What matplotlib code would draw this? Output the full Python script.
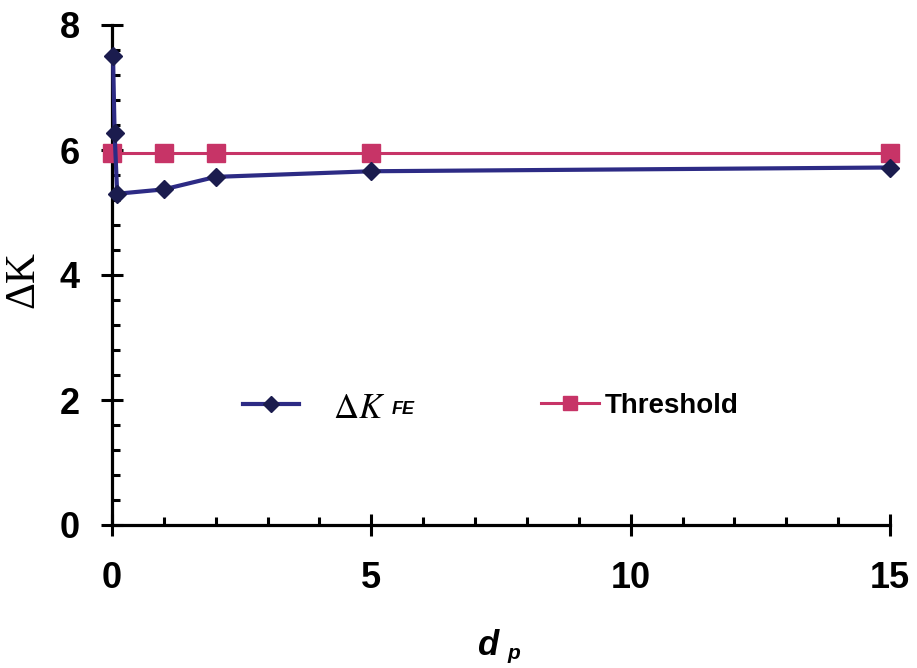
import numpy as np
import matplotlib.pyplot as plt
from matplotlib.ticker import MultipleLocator

# data
dp_fe = [0.02, 0.05, 0.1, 1, 2, 5, 15]
dk_fe = [7.5, 6.27, 5.3, 5.37, 5.57, 5.66, 5.72]
dp_thr = [0, 1, 2, 5, 15]
dk_thr = [5.95, 5.95, 5.95, 5.95, 5.95]

xticks = [0, 5, 10, 15]
yticks = [0, 2, 4, 6, 8]

navy = '#2d2b85'
navy_dark = '#1b1c4e'
pink = '#c73467'

fig = plt.figure(figsize=(9.17, 6.68), dpi=100)
ax = fig.add_axes([112/917, 1-525/668, 778/917, 500/668])

l1, = ax.plot(dp_fe, dk_fe, color=navy, lw=3.0, marker='D', ms=9.5,
              mfc=navy_dark, mec=navy_dark, clip_on=False, zorder=4)
l2, = ax.plot(dp_thr, dk_thr, color=pink, lw=2.2, marker='s', ms=13,
              mfc=pink, mec=pink, clip_on=False, zorder=3)

ax.set_xlim(0, 15)
ax.set_ylim(0, 8)
for s in ['top', 'right']:
    ax.spines[s].set_visible(False)
for s in ['left', 'bottom']:
    ax.spines[s].set_linewidth(2.3)

ax.set_xticks(xticks)
ax.set_yticks(yticks)
ax.xaxis.set_minor_locator(MultipleLocator(1))
ax.yaxis.set_minor_locator(MultipleLocator(0.4))
ax.tick_params(which='major', direction='inout', length=16, width=2.2, pad=18)
ax.tick_params(axis='y', which='major', pad=15)
ax.tick_params(which='minor', direction='in', length=6, width=2.2)
for lab in ax.get_xticklabels() + ax.get_yticklabels():
    lab.set_fontfamily('Liberation Sans')
    lab.set_fontweight('bold')
    lab.set_fontsize(26)

# axis titles
fig.text(23/917, 1-280/668, '\u0394K', rotation=90, ha='center', va='center',
         family='Liberation Serif', fontsize=30)
fig.text(488/917, 1-655/668, 'd', ha='center', va='baseline',
         family='Liberation Sans', weight='bold', style='italic', fontsize=25)
fig.text(507/917, 1-659/668, 'p', ha='left', va='baseline',
         family='Liberation Sans', weight='bold', style='italic', fontsize=15)

# legend
leg1 = ax.legend([l1], [''], loc='center left', bbox_to_anchor=((243-112)/778, 0.238),
                 frameon=False, borderpad=0, borderaxespad=0, handlelength=2.0,
                 handletextpad=0, markerscale=0.85, fontsize=20)
ax.add_artist(leg1)
ax.legend([l2], ['Threshold'], loc='center left', bbox_to_anchor=((541-112)/778, 0.238),
          frameon=False, borderpad=0, borderaxespad=0, handlelength=2.1,
          handletextpad=0.2, markerscale=0.8,
          prop={'family': 'Liberation Sans', 'weight': 'bold', 'size': 20})
fig.text(333/917, 1-418/668, r'$\it{\Delta K}$', ha='left', va='baseline',
         fontsize=25, math_fontfamily='stix')
fig.text(392/917, 1-414/668, 'FE', ha='left', va='baseline',
         family='Liberation Sans', weight='bold', style='italic', fontsize=13)

fig.savefig('out.png', dpi=100)
